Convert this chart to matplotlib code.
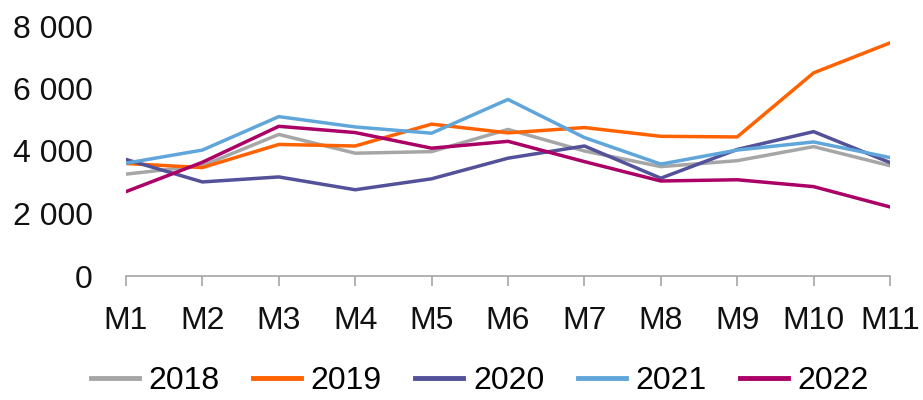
import matplotlib
matplotlib.use("Agg")
import matplotlib.pyplot as plt

months = ["M1", "M2", "M3", "M4", "M5", "M6", "M7", "M8", "M9", "M10", "M11"]
s2018 = [3260, 3530, 4530, 3930, 3980, 4690, 4000, 3500, 3690, 4140, 3530]
s2019 = [3600, 3470, 4210, 4160, 4860, 4580, 4750, 4470, 4450, 6500, 7460]
s2020 = [3730, 3010, 3170, 2760, 3110, 3770, 4160, 3130, 4050, 4620, 3630]
s2021 = [3610, 4030, 5100, 4770, 4570, 5650, 4430, 3580, 4030, 4290, 3790]
s2022 = [2700, 3640, 4790, 4590, 4090, 4310, 3660, 3040, 3080, 2860, 2210]

series = [("2018", s2018, "#A6A6A6"),
          ("2019", s2019, "#FF6200"),
          ("2020", s2020, "#525199"),
          ("2021", s2021, "#60A6DA"),
          ("2022", s2022, "#AB0066")]

plt.rcParams['font.family'] = ['Liberation Sans', 'DejaVu Sans']

fig = plt.figure(figsize=(9.23, 4.0), dpi=100)
ax = fig.add_axes([126/923, 1-276/400, (890-126)/923, 250/400])

x = list(range(len(months)))
for name, vals, col in series:
    ax.plot(x, vals, color=col, lw=2.5, label=name)

ax.set_xlim(0, len(months)-1)
ax.set_ylim(0, 8000)
ax.set_yticks([0, 2000, 4000, 6000, 8000])
ax.set_yticklabels(["0", "2 000", "4 000", "6 000", "8 000"])
ax.set_xticks(x)
ax.set_xticklabels(months)

for s in ["top", "right", "left"]:
    ax.spines[s].set_visible(False)
ax.spines["bottom"].set_color("#A6A6A6")
ax.spines["bottom"].set_linewidth(1.2)
ax.tick_params(axis='x', direction='out', length=7.5, width=1.2, color="#A6A6A6",
               labelsize=23, pad=14, labelcolor="#111111")
ax.tick_params(axis='y', length=0, labelsize=23, pad=24, labelcolor="#111111")

leg = fig.legend(loc='center', bbox_to_anchor=(0.52, 1-381/400), ncol=5, frameon=False,
                 fontsize=23, handlelength=1.5, handletextpad=0.3, columnspacing=1.05,
                 borderaxespad=0, borderpad=0)
for h in leg.get_lines():
    h.set_linewidth(3.5)

fig.savefig("out.png", dpi=100)
